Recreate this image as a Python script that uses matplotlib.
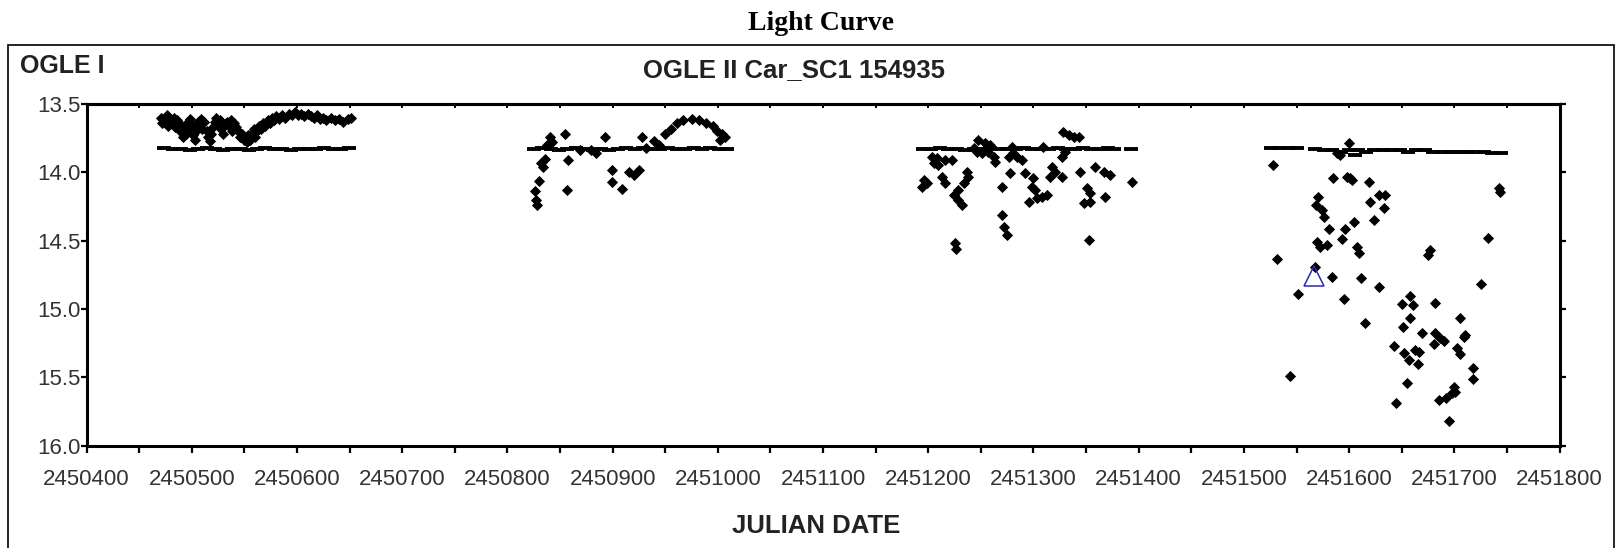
import matplotlib.pyplot as plt
from matplotlib.patches import Rectangle

plt.rcParams['font.family'] = ['Liberation Sans', 'DejaVu Sans']

JD0 = 2450000

# OGLE II I-band points, JD - 2450000 and magnitude, one season per list
s1_jd = [471, 472, 474, 476, 477, 479, 481, 483, 484, 486, 488, 489, 491, 492, 494,
         495, 497, 498, 500, 501, 503, 504, 506, 507, 509, 510, 512, 514, 515, 517,
         518, 520, 522, 523, 525, 527, 528, 530, 531, 533, 535, 537, 538, 540, 542,
         544, 546, 548, 550, 552, 553, 555, 557, 559, 560, 562, 564, 566, 568, 570,
         572, 574, 576, 578, 580, 583, 586, 589, 592, 595, 598, 601, 604, 607, 610,
         613, 616, 619, 622, 625, 628, 632, 636, 640, 644, 648, 651]
s1_mag = [13.60, 13.64, 13.62, 13.58, 13.66, 13.61, 13.63, 13.60, 13.67, 13.62, 13.65,
          13.70, 13.66, 13.74, 13.72, 13.64, 13.68, 13.61, 13.66, 13.73, 13.76, 13.70,
          13.63, 13.66, 13.61, 13.68, 13.63, 13.70, 13.74, 13.77, 13.72, 13.67, 13.63,
          13.60, 13.64, 13.62, 13.68, 13.72, 13.66, 13.63, 13.66, 13.62, 13.70, 13.64,
          13.67, 13.70, 13.74, 13.72, 13.76, 13.78, 13.73, 13.76, 13.71, 13.68, 13.74,
          13.70, 13.66, 13.68, 13.64, 13.66, 13.62, 13.64, 13.60, 13.62, 13.59, 13.61,
          13.58, 13.60, 13.57, 13.58, 13.56, 13.58, 13.57, 13.59, 13.57, 13.59, 13.60,
          13.58, 13.61, 13.60, 13.62, 13.60, 13.62, 13.61, 13.63, 13.61, 13.60]

s2_jd = [826, 827, 828, 830, 832, 834, 836, 838, 840, 842, 855, 858, 857, 869, 879,
         884, 893, 899, 899, 909, 916, 920, 925, 928, 932, 939, 944, 950, 955, 961,
         967, 975, 982, 989, 995, 999, 1004, 1007, 1002]
s2_mag = [14.14, 14.20, 14.24, 14.06, 13.93, 13.96, 13.90, 13.80, 13.74, 13.78, 13.72,
          13.91, 14.13, 13.84, 13.84, 13.86, 13.74, 13.98, 14.07, 14.12, 14.00, 14.02,
          13.98, 13.74, 13.82, 13.77, 13.80, 13.72, 13.68, 13.64, 13.62, 13.61, 13.62,
          13.64, 13.66, 13.70, 13.72, 13.74, 13.76]

s3_jd = [1247.7, 1254.1, 1258.8, 1246.2, 1250.9, 1257.2, 1243.0, 1279.4, 1281.0,
         1276.3, 1284.2, 1289.0, 1263.6, 1262.0, 1309.5, 1328.5, 1333.3, 1338.1,
         1342.8, 1330.1, 1327.0, 1203.4, 1208.1, 1216.1, 1222.4, 1205.0, 1209.7,
         1195.5, 1193.9, 1198.6, 1212.9, 1216.1, 1236.7, 1238.2, 1233.5, 1228.7,
         1224.0, 1228.7, 1231.9, 1269.9, 1277.8, 1292.1, 1300.0, 1298.4, 1301.6,
         1303.2, 1308.0, 1312.7, 1295.3, 1317.5, 1315.9, 1320.6, 1327.0, 1344.4,
         1358.7, 1366.6, 1372.9, 1350.7, 1353.9, 1347.6, 1353.9, 1368.2, 1393.5,
         1269.9, 1271.5, 1274.7, 1225.6, 1226.5, 1352.3]
s3_mag = [13.763, 13.788, 13.800, 13.849, 13.861, 13.849, 13.824, 13.812, 13.861,
          13.885, 13.885, 13.910, 13.922, 13.885, 13.812, 13.702, 13.727, 13.739,
          13.739, 13.849, 13.885, 13.885, 13.898, 13.910, 13.910, 13.934, 13.946,
          14.056, 14.105, 14.081, 14.032, 14.081, 13.995, 14.032, 14.081, 14.129,
          14.166, 14.203, 14.239, 14.105, 14.007, 14.007, 14.044, 14.105, 14.129,
          14.190, 14.178, 14.166, 14.215, 13.959, 14.032, 13.995, 14.032, 13.995,
          13.959, 13.995, 14.020, 14.117, 14.154, 14.227, 14.215, 14.183, 14.068,
          14.313, 14.398, 14.459, 14.520, 14.564, 14.496]

s4_jd = [1599.5, 1588.4, 1591.5, 1527.5, 1584.6, 1597.9, 1601.0, 1602.6, 1618.5,
         1570.9, 1568.7, 1574.1, 1575.7, 1620.1, 1628.0, 1634.3, 1632.7, 1623.2,
         1604.8, 1596.3, 1593.1, 1581.1, 1569.4, 1572.5, 1578.9, 1607.4, 1609.0,
         1676.5, 1674.9, 1742.1, 1743.7, 1731.9, 1531.3, 1567.8, 1583.6, 1611.5,
         1628.6, 1594.7, 1551.3, 1614.7, 1658.1, 1650.2, 1660.6, 1658.1, 1681.9,
         1705.0, 1651.1, 1669.2, 1681.9, 1686.6, 1689.8, 1680.9, 1710.4, 1708.8,
         1642.9, 1651.7, 1656.5, 1662.8, 1666.0, 1665.4, 1702.4, 1705.6, 1717.3,
         1717.3, 1725.6, 1544.0, 1654.9, 1699.3, 1700.9, 1697.7, 1685.0, 1692.0,
         1644.5, 1695.2]
s4_mag = [13.783, 13.861, 13.873, 13.946, 14.039, 14.032, 14.044, 14.056, 14.068,
          14.178, 14.239, 14.276, 14.329, 14.215, 14.166, 14.166, 14.263, 14.349,
          14.361, 14.415, 14.490, 14.415, 14.507, 14.544, 14.532, 14.549, 14.593,
          14.568, 14.605, 14.117, 14.141, 14.478, 14.634, 14.690, 14.764, 14.776,
          14.842, 14.930, 14.890, 15.100, 14.903, 14.964, 14.971, 15.064, 14.954,
          15.069, 15.134, 15.174, 15.178, 15.215, 15.232, 15.256, 15.191, 15.208,
          15.271, 15.325, 15.374, 15.300, 15.313, 15.405, 15.288, 15.332, 15.435,
          15.515, 14.817, 15.488, 15.540, 15.569, 15.605, 15.618, 15.666, 15.654,
          15.691, 15.820]

# horizontal dash markers running through each season
dash_jd = [474, 482, 490, 498, 506, 514, 522, 530, 538, 546, 554, 562, 570, 578, 586,
           594, 602, 610, 618, 626, 634, 642, 649,
           825, 833, 841, 849, 857, 865, 873, 881, 889, 897, 905, 913, 921, 929, 937,
           945, 953, 961, 969, 977, 985, 993, 1001, 1009,
           1195, 1203, 1211, 1219, 1227, 1235, 1243, 1251, 1259, 1267, 1275, 1283,
           1291, 1299, 1307, 1315, 1323, 1331, 1339, 1347, 1355, 1363, 1371, 1377,
           1393,
           1526, 1533, 1543, 1550, 1568, 1576, 1584, 1592, 1600, 1606, 1608, 1616,
           1624, 1632, 1640, 1648, 1656, 1664, 1672, 1680, 1688, 1696, 1704, 1712,
           1720, 1728, 1736, 1744]
dash_mag = [13.82, 13.83, 13.83, 13.84, 13.83, 13.82, 13.83, 13.84, 13.83, 13.83, 13.84,
            13.83, 13.82, 13.83, 13.83, 13.84, 13.83, 13.83, 13.83, 13.82, 13.83, 13.83,
            13.82,
            13.83, 13.82, 13.83, 13.84, 13.83, 13.82, 13.83, 13.84, 13.83, 13.84, 13.83,
            13.82, 13.83, 13.82, 13.83, 13.83, 13.82, 13.83, 13.83, 13.82, 13.83, 13.82,
            13.83, 13.83,
            13.83, 13.83, 13.82, 13.83, 13.83, 13.84, 13.83, 13.83, 13.82, 13.83, 13.83,
            13.83, 13.82, 13.83, 13.83, 13.83, 13.82, 13.83, 13.83, 13.82, 13.83, 13.83,
            13.82, 13.83, 13.83,
            13.82, 13.82, 13.82, 13.82, 13.83, 13.84, 13.84, 13.85, 13.84, 13.87, 13.84,
            13.85, 13.84, 13.84, 13.84, 13.84, 13.85, 13.84, 13.84, 13.85, 13.85, 13.85,
            13.85, 13.85, 13.85, 13.85, 13.86, 13.86]

# single OGLE I point
ogle1_jd = [1566.6]
ogle1_mag = [14.757]

x_ticks = list(range(2450400, 2451801, 100))
y_ticks = [13.5, 14.0, 14.5, 15.0, 15.5, 16.0]

fig = plt.figure(figsize=(16.17, 5.48), dpi=100)
fig.patches.append(Rectangle((8 / 1617, -0.1), 1606 / 1617, 1.1 - 45 / 548,
                             transform=fig.transFigure, fill=False,
                             edgecolor='black', linewidth=1.2))

ax = fig.add_axes([0.05356, 0.1870, 0.9109, 0.6232])

ax.plot([JD0 + d for d in dash_jd], dash_mag, linestyle='none', marker='_',
        markersize=9.5, markeredgewidth=2.8, color='black')
for jd, mag in [(s1_jd, s1_mag), (s2_jd, s2_mag), (s3_jd, s3_mag), (s4_jd, s4_mag)]:
    ax.plot([JD0 + d for d in jd], mag, linestyle='none', marker='D',
            markersize=5.0, markeredgewidth=0.6, color='black')
ax.plot([JD0 + d for d in ogle1_jd], ogle1_mag, linestyle='none', marker='^',
        markersize=15, markerfacecolor='none', markeredgecolor='#2a2aa8',
        markeredgewidth=1.1)

ax.set_xlim(2450400, 2451800)
ax.set_ylim(16.0, 13.5)
ax.set_xticks(x_ticks)
ax.set_xticklabels([str(t) for t in x_ticks])
ax.set_xticks([t + 50 for t in x_ticks[:-1]], minor=True)
ax.set_yticks(y_ticks)
ax.set_yticklabels(['%.1f' % t for t in y_ticks])

for s in ax.spines.values():
    s.set_linewidth(2.2)
ax.tick_params(axis='both', which='both', direction='out', length=5, width=1.6,
               labelsize=16, labelcolor='#333333')
ax.tick_params(axis='x', which='major', pad=12)
ax.tick_params(axis='y', right=True, length=4, pad=0.5)

top = ax.secondary_xaxis('top')
top.set_xticks(x_ticks + [t + 50 for t in x_ticks[:-1]])
top.tick_params(direction='in', length=3, width=1.4, labeltop=False)
top.spines['top'].set_linewidth(2.2)

fig.text(0.508, 0.958, 'Light Curve', family='Liberation Serif', weight='bold',
         fontsize=20, ha='center', va='center')
fig.text(0.0124, 0.879, 'OGLE I', weight='bold', fontsize=18, ha='left',
         va='center', color='#222222')
fig.text(0.491, 0.872, 'OGLE II Car_SC1 154935', weight='bold', fontsize=18.5,
         ha='center', va='center', color='#222222')
fig.text(0.5046, 0.041, 'JULIAN DATE', weight='bold', fontsize=18.5,
         ha='center', va='center', color='#222222')

fig.savefig('out.png', dpi=100)
